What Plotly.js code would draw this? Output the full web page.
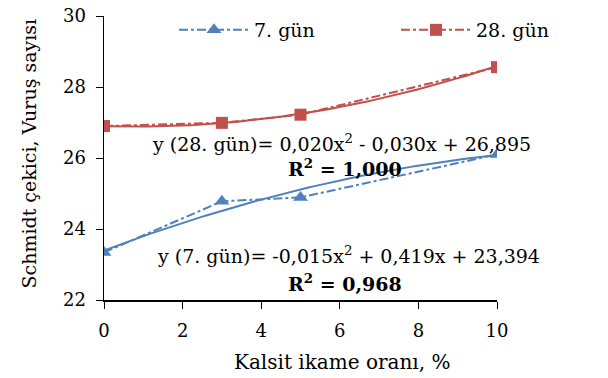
<!DOCTYPE html>
<html>
<head>
<meta charset="utf-8">
<script src="https://cdn.plot.ly/plotly-3.0.1.min.js"></script>
<style>html,body{margin:0;padding:0;background:#fff}#chart{width:608px;height:378px}</style>
</head>
<body>
<div id="chart"></div>
<script>
// Data
var xValues = [0, 3, 5, 10];
var gun7 = [23.34, 24.78, 24.89, 26.10];
var gun28 = [26.90, 26.99, 27.22, 28.56];
var seriesNames = ["7. gün", "28. gün"];
// Trendline coefficients as printed in the chart (a, b, c for ax² + bx + c)
var coef7 = [-0.015, 0.419, 23.394];
var coef28 = [0.020, -0.030, 26.895];
var eq28Text = "y (28. gün)= 0,020x<sup>2</sup> - 0,030x + 26,895";
var r28Text = "<b>R<sup>2</sup> = 1,000</b>";
var eq7Text = "y (7. gün)= -0,015x<sup>2</sup> + 0,419x + 23,394";
var r7Text = "<b>R<sup>2</sup> = 0,968</b>";
var xTitle = "Kalsit ikame oranı, %";
var yTitle = "Schmidt çekici, Vuruş sayısı";
var xTicks = [0, 2, 4, 6, 8, 10];
var yTicks = [22, 24, 26, 28, 30];

var blue = "#4F81BD", red = "#C0504D";
var FONT = "DejaVu Serif";

function curve(c) {
  var xs = [], ys = [];
  for (var i = 0; i <= 100; i++) {
    var x = xValues[0] + (xValues[xValues.length - 1] - xValues[0]) * i / 100;
    xs.push(x); ys.push(c[0] * x * x + c[1] * x + c[2]);
  }
  return {x: xs, y: ys};
}
var c7 = curve(coef7), c28 = curve(coef28);

var traces = [
  {x: c7.x, y: c7.y, mode: "lines", line: {color: blue, width: 2}, showlegend: false, hoverinfo: "skip"},
  {x: c28.x, y: c28.y, mode: "lines", line: {color: red, width: 2}, showlegend: false, hoverinfo: "skip"},
  {x: xValues, y: gun7, name: seriesNames[0], mode: "lines+markers", legend: "legend",
   line: {color: blue, width: 2, dash: "dashdot"},
   marker: {symbol: "triangle-up", size: 13, color: blue}},
  {x: xValues, y: gun28, name: seriesNames[1], mode: "lines+markers", legend: "legend2",
   line: {color: red, width: 2, dash: "dashdot"},
   marker: {symbol: "square", size: 12, color: red}}
];

var legendBase = {orientation: "h", xanchor: "left", yanchor: "middle", y: (300 - 30) / 285,
  font: {family: FONT, size: 19, color: "#000"}, bgcolor: "rgba(0,0,0,0)", itemwidth: 70};

function px(xp) { return (xp - 104) / 393; }
function py(yp) { return (300 - yp) / 285; }
function note(x, y, text, size, extra) {
  return Object.assign({xref: "paper", yref: "paper", x: px(x), y: py(y), text: text,
    showarrow: false, xanchor: "center", yanchor: "middle",
    font: {family: FONT, size: size, color: "#000"}}, extra || {});
}

var layout = {
  width: 608, height: 378,
  margin: {l: 104, r: 111, t: 15, b: 78},
  paper_bgcolor: "#fff", plot_bgcolor: "#fff",
  font: {family: FONT, size: 18, color: "#000"},
  showlegend: true,
  legend: Object.assign({}, legendBase, {x: px(174)}),
  legend2: Object.assign({}, legendBase, {x: px(396)}),
  xaxis: {range: [0, 10], tickvals: xTicks, ticks: "outside", ticklen: 7, tickcolor: "#000",
          showline: true, linecolor: "#000", linewidth: 1.5, showgrid: false, zeroline: false,
          tickfont: {family: FONT, size: 18}, ticklabelstandoff: 7},
  yaxis: {range: [22, 30], tickvals: yTicks, ticks: "outside", ticklen: 7, tickcolor: "#000",
          showline: true, linecolor: "#000", linewidth: 1.5, showgrid: false, zeroline: false,
          tickfont: {family: FONT, size: 18}, ticklabelstandoff: 6},
  annotations: [
    note(341, 142, eq28Text, 19),
    note(345, 168, r28Text, 19),
    note(348, 255, eq7Text, 19),
    note(345, 283, r7Text, 19),
    note(342, 362, xTitle, 20),
    note(29, 153, yTitle, 19, {textangle: -90})
  ]
};

Plotly.newPlot("chart", traces, layout, {staticPlot: true, displayModeBar: false});
</script>
</body>
</html>
